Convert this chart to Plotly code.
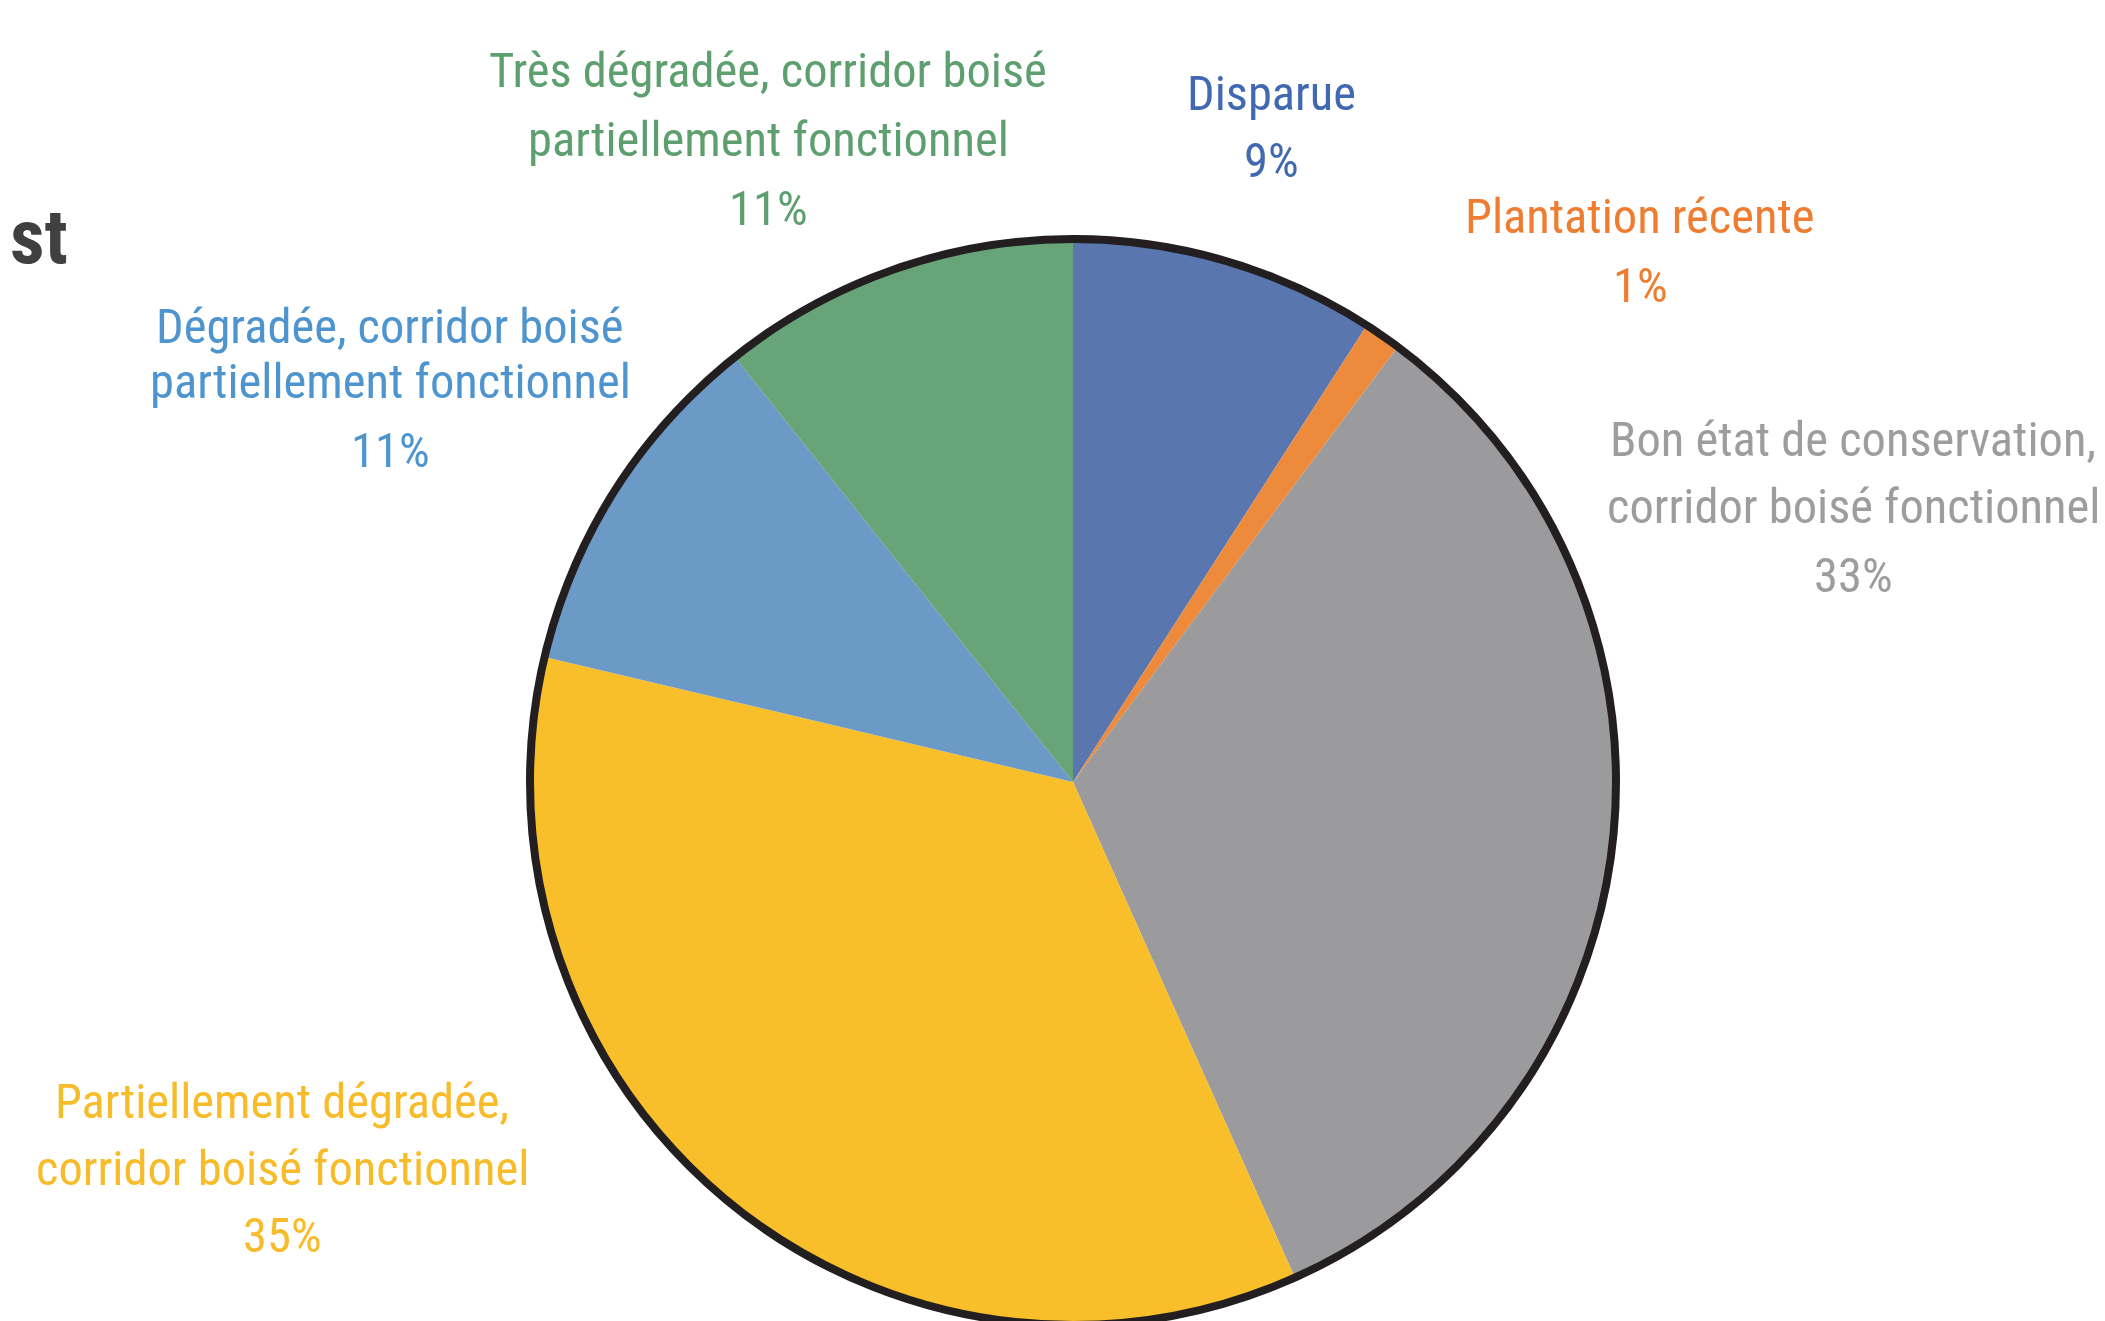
import plotly.graph_objects as go

# ---- data ----
categories = [
    "Disparue",
    "Plantation récente",
    "Bon état de conservation, corridor boisé fonctionnel",
    "Partiellement dégradée, corridor boisé fonctionnel",
    "Dégradée, corridor boisé partiellement fonctionnel",
    "Très dégradée, corridor boisé partiellement fonctionnel",
]
values = [9.1, 1.1, 33.1, 35.4, 10.6, 10.7]
label_lines = [
    ["Disparue"],
    ["Plantation récente"],
    ["Bon état de conservation,", "corridor boisé fonctionnel"],
    ["Partiellement dégradée,", "corridor boisé fonctionnel"],
    ["Dégradée, corridor boisé", "partiellement fonctionnel"],
    ["Très dégradée, corridor boisé", "partiellement fonctionnel"],
]
title_fragment = "st"

# ---- styles / layout ----
W, H = 2105, 1321
OFF = 8  # page body margin offset compensation
slice_colors = ["#5A76AE", "#ED8A3B", "#9B9B9D", "#F8BF2A", "#6C9AC6", "#67A477"]
label_colors = ["#4169B1", "#EE7D32", "#9D9DA0", "#F8BB29", "#4E94CE", "#5E9F6F"]
# (center x px, [line centre y px ..., percent y px]) in screen pixels
label_pos = [
    (1271, [94, 161]),
    (1640, [216, 285]),
    (1853, [439, 507, 575]),
    (282, [1101, 1168, 1235]),
    (390, [326, 381, 450]),
    (768, [70, 140, 208]),
]
FONT = "Roboto Condensed, Liberation Sans Narrow, Arial Narrow, sans-serif"
FS = 48.5

# pie centre / radius in screen pixels
cx, cy, r = 1073 - OFF, 782 - OFF, 543
dom = dict(x=[(cx - 600) / W, (cx + 600) / W],
           y=[1 - (cy + r) / H, 1 - (cy - r) / H])

fig = go.Figure()
fig.add_trace(go.Pie(
    labels=categories, values=values, sort=False, direction="clockwise",
    rotation=0, textinfo="none", hoverinfo="label+percent",
    marker=dict(colors=slice_colors, line=dict(width=0)),
    domain=dom, showlegend=False,
))
# outer rim only
fig.add_trace(go.Pie(
    labels=["rim"], values=[1], sort=False, textinfo="none", hoverinfo="skip",
    marker=dict(colors=["rgba(0,0,0,0)"], line=dict(color="#231F20", width=8)),
    domain=dom, showlegend=False,
))

total = sum(values)
annotations = []
for i, lines in enumerate(label_lines):
    x, ys = label_pos[i]
    texts = lines + [f"{round(values[i] / total * 100)}%"]
    for t, y in zip(texts, ys):
        annotations.append(dict(
            x=(x - OFF) / W, y=1 - (y - OFF) / H, xref="paper", yref="paper",
            text=t, showarrow=False, xanchor="center", yanchor="middle",
            font=dict(family=FONT, size=FS, color=label_colors[i]),
        ))
annotations.append(dict(
    x=0, y=1 - 229 / H, xref="paper", yref="paper",
    text=f"<b>{title_fragment}</b>", showarrow=False, xanchor="left", yanchor="middle",
    font=dict(family=FONT, size=76, color="#404040"),
))

fig.update_layout(
    width=W, height=H, margin=dict(l=0, r=0, t=0, b=0),
    paper_bgcolor="white", plot_bgcolor="white",
    annotations=annotations,
)
fig.write_html("out.html")
